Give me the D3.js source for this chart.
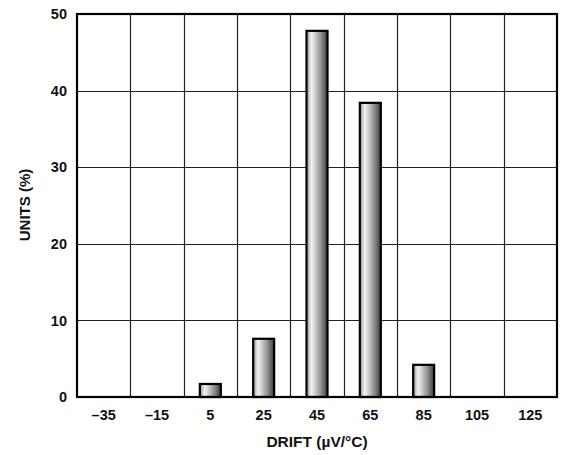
<!DOCTYPE html>
<html><head><meta charset="utf-8">
<script src="https://cdn.jsdelivr.net/npm/d3@7"></script>
<style>body{margin:0;background:#fff}svg{display:block}text{font-family:"Liberation Sans",Arial,sans-serif;font-weight:bold;fill:#111}</style>
</head><body>
<script>
const categories = ["\u201335","\u201315","5","25","45","65","85","105","125"];
const values = [0,0,1.7,7.6,47.8,38.4,4.2,0,0];
const yTicks = [0,10,20,30,40,50];
const xTitle = "DRIFT (\u00b5V/\u00b0C)";
const yTitle = "UNITS (%)";

const W=564,H=455, m={l:77,r:7,t:14,b:58};
const svg=d3.select("body").append("svg").attr("width",W).attr("height",H);
const defs=svg.append("defs");
const g=defs.append("linearGradient").attr("id","bg").attr("x1","0").attr("x2","1").attr("y1","0").attr("y2","0");
[[0,"#8a8a8a"],[0.22,"#f2f2f2"],[0.35,"#dcdcdc"],[0.7,"#8c8c8c"],[1,"#3a3a3a"]].forEach(([o,c])=>g.append("stop").attr("offset",o).attr("stop-color",c));

const x=d3.scaleBand().domain(categories).range([m.l,W-m.r]).paddingInner(0).paddingOuter(0);
const y=d3.scaleLinear().domain([0,50]).range([H-m.b,m.t]);
const pw=W-m.r-m.l;

// grid
const grid=svg.append("g");
grid.selectAll("line.v").data(categories.slice(1)).join("line")
 .attr("x1",d=>Math.round(x(d))+0.5).attr("x2",d=>Math.round(x(d))+0.5)
 .attr("y1",m.t).attr("y2",H-m.b).attr("stroke","#222").attr("stroke-width",1.2);
grid.selectAll("line.h").data(yTicks.slice(1,-1)).join("line")
 .attr("x1",m.l).attr("x2",W-m.r).attr("y1",d=>Math.round(y(d))+0.5).attr("y2",d=>Math.round(y(d))+0.5)
 .attr("stroke","#222").attr("stroke-width",1.2);

// bars
const bw=21;
svg.append("g").selectAll("rect").data(values.map((v,i)=>({c:categories[i],v})).filter(d=>d.v>0)).join("rect")
 .attr("x",d=>x(d.c)+x.bandwidth()/2-bw/2).attr("width",bw)
 .attr("y",d=>y(d.v)).attr("height",d=>y(0)-y(d.v))
 .attr("fill","url(#bg)").attr("stroke","#000").attr("stroke-width",2.2);

// frame
svg.append("rect").attr("x",m.l).attr("y",m.t).attr("width",pw).attr("height",H-m.b-m.t)
 .attr("fill","none").attr("stroke","#000").attr("stroke-width",2.2);

// axes labels
const tf=14.5;
const ya=svg.append("g").attr("transform",`translate(${m.l},0)`)
 .call(d3.axisLeft(y).tickValues(yTicks).tickSize(0).tickPadding(10));
ya.select(".domain").remove();
ya.selectAll("text").attr("font-size",tf).attr("font-family","Liberation Sans, Arial, sans-serif").attr("font-weight","bold").attr("fill","#111");
const xa=svg.append("g").attr("transform",`translate(0,${H-m.b})`)
 .call(d3.axisBottom(x).tickSize(0).tickPadding(13));
xa.select(".domain").remove();
xa.selectAll("text").attr("font-size",tf).attr("font-family","Liberation Sans, Arial, sans-serif").attr("font-weight","bold").attr("fill","#111");

svg.append("text").attr("x",m.l+pw/2).attr("y",446.5).attr("text-anchor","middle").attr("font-size",15.5).text(xTitle);
svg.append("text").attr("transform",`translate(29.5,205) rotate(-90)`).attr("text-anchor","middle").attr("font-size",15).text(yTitle);
</script>
</body></html>
